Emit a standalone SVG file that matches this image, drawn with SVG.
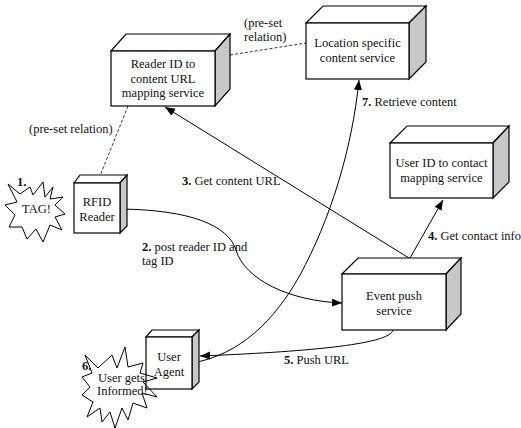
<svg xmlns="http://www.w3.org/2000/svg" width="521" height="428" viewBox="0 0 521 428">
<style>
text{font-family:"Liberation Serif","Times New Roman",serif;font-size:12.5px;fill:#111}
.c{text-anchor:middle}
.b{font-weight:bold}
.front,.top{fill:#fff;stroke:#000;stroke-width:1.2}
.side{fill:#c8c8c8;stroke:#000;stroke-width:1.2}
.ln{fill:none;stroke:#000;stroke-width:1}
.dash{fill:none;stroke:#000;stroke-width:0.8;stroke-dasharray:3,2}
.star{fill:none;stroke:#000;stroke-width:1}
</style>
<defs>
<marker id="ah" markerUnits="userSpaceOnUse" markerWidth="12" markerHeight="10" refX="10" refY="4" orient="auto">
<path d="M0,0 L10,4 L0,8 Z" fill="#000"/>
</marker>
</defs>
<g id="connectors">
<line class="dash" x1="128" y1="106" x2="98" y2="181"/>
<line class="dash" x1="230" y1="55" x2="306" y2="43"/>
<line class="ln" x1="409" y1="258" x2="165" y2="107" marker-end="url(#ah)"/>
<line class="ln" x1="410" y1="258" x2="443" y2="200" marker-end="url(#ah)"/>
<path class="ln" d="M121,209 C190,210 228,225 236,250 C245,280 290,301 342,303" marker-end="url(#ah)"/>
<path class="ln" d="M393,330 C390,345 300,352 200,356" marker-end="url(#ah)"/>
<path class="ln" d="M192,363 C240,355 275,320 300,275 C330,220 352,150 359,80" marker-end="url(#ah)"/>
<text x="29" y="133">(pre-set relation)</text>
<text x="244" y="27">(pre-set</text>
<text x="244" y="41">relation)</text>
<text x="182" y="185"><tspan class="b">3.</tspan> Get content URL</text>
<text x="362" y="106"><tspan class="b">7.</tspan> Retrieve content</text>
<text x="428" y="240"><tspan class="b">4.</tspan> Get contact info</text>
<text x="142" y="251"><tspan class="b">2.</tspan> post reader ID and</text>
<text x="142" y="265">tag ID</text>
<text x="284" y="364"><tspan class="b">5.</tspan> Push URL</text>
</g>
<g id="reader-mapping">
<polygon class="top" points="111,51 126,34 230,34 215,51"/>
<polygon class="side" points="215,51 230,34 230,89 215,106"/>
<rect class="front" x="111" y="51" width="104" height="55"/>
<text class="c" x="163" y="68">Reader ID to</text>
<text class="c" x="163" y="82.5">content URL</text>
<text class="c" x="163" y="97">mapping service</text>
</g>
<g id="location-content">
<polygon class="top" points="306,23 323,6 426,6 409,23"/>
<polygon class="side" points="409,23 426,6 426,62 409,79"/>
<rect class="front" x="306" y="23" width="103" height="56"/>
<text class="c" x="357.5" y="47">Location specific</text>
<text class="c" x="357.5" y="62">content service</text>
</g>
<g id="userid-mapping">
<polygon class="top" points="390,143 407,126 509,126 493,143"/>
<polygon class="side" points="493,143 509,126 509,182 493,198"/>
<rect class="front" x="390" y="143" width="103" height="55"/>
<text class="c" x="441.5" y="167">User ID to contact</text>
<text class="c" x="441.5" y="182">mapping service</text>
</g>
<g id="event-push">
<polygon class="top" points="342,274 358,258 461,258 446,274"/>
<polygon class="side" points="446,274 461,258 461,314 446,330"/>
<rect class="front" x="342" y="274" width="104" height="56"/>
<text class="c" x="394" y="300">Event push</text>
<text class="c" x="394" y="315">service</text>
</g>
<g id="rfid-reader">
<polygon class="top" points="74,183 80,175 127,175 120,183"/>
<polygon class="side" points="120,183 127,175 127,226 120,233"/>
<rect class="front" x="74" y="183" width="46" height="50"/>
<text class="c" x="97" y="206">RFID</text>
<text class="c" x="97" y="221">Reader</text>
</g>
<g id="user-agent">
<polygon class="top" points="146,337 152,330 199,330 192,337"/>
<polygon class="side" points="192,337 199,330 199,382 192,389"/>
<rect class="front" x="146" y="337" width="46" height="52"/>
<text class="c" x="169" y="361">User</text>
<text class="c" x="169" y="376">Agent</text>
</g>
<g id="tag-star">
<polygon class="star" points="8,184 20,194 30,187 33,195 43,182 45,197 53,187 50,199 63,197 55,205 65,214 55,217 62,230 50,225 43,242 36,229 27,239 22,227 9,227 15,215 5,205 17,202"/>
<text x="17" y="186" class="b">1.</text>
<text x="22" y="213">TAG!</text>
</g>
<g id="informed-star">
<polygon class="star" points="85,355 98,368 112,355 117,368 125,347 128,367 143,363 140,373 157,378 143,382 157,397 142,393 147,408 133,403 128,420 122,408 115,428 110,412 102,422 100,408 87,417 93,402 82,395 90,387 82,377 92,373"/>
<text x="82" y="370" class="b">6.</text>
<text x="98" y="382">User gets</text>
<text x="97" y="395">Informed!</text>
</g>
</svg>
